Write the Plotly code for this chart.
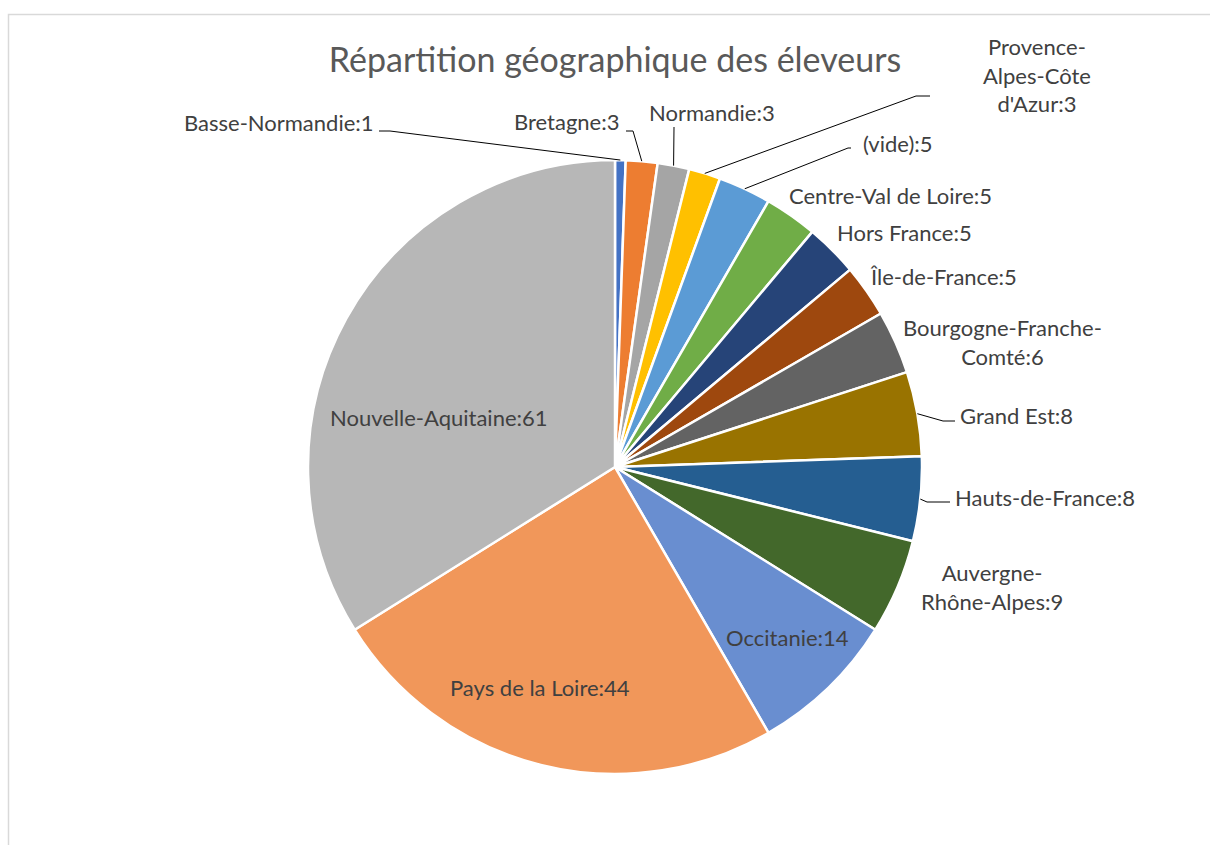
import math
import plotly.graph_objects as go

W, H = 1210, 845

# --- data (clockwise from 12 o'clock) ---
regions = [
    "Basse-Normandie", "Bretagne", "Normandie", "Provence-Alpes-Côte d'Azur",
    "(vide)", "Centre-Val de Loire", "Hors France", "Île-de-France",
    "Bourgogne-Franche-Comté", "Grand Est", "Hauts-de-France",
    "Auvergne-Rhône-Alpes", "Occitanie", "Pays de la Loire", "Nouvelle-Aquitaine",
]
counts = [1, 3, 3, 3, 5, 5, 5, 5, 6, 8, 8, 9, 14, 44, 61]

# wrapped versions of the long names, as Excel shows them
wrapped = {
    "Provence-Alpes-Côte d'Azur": "Provence-<br>Alpes-Côte<br>d'Azur",
    "Bourgogne-Franche-Comté": "Bourgogne-Franche-<br>Comté",
    "Auvergne-Rhône-Alpes": "Auvergne-<br>Rhône-Alpes",
}

colors = [
    "#4472C4", "#ED7D31", "#A5A5A5", "#FFC000", "#5B9BD5", "#70AD47",
    "#264478", "#9E480E", "#636363", "#997300", "#255E91", "#43682B",
    "#698ED0", "#F1975A", "#B7B7B7",
]

# pie geometry in pixels
CX, CY, R = 615, 467, 307

# label placement (pixels): x, y, xanchor
label_pos = [
    (376, 123, "right"), (622, 122, "right"), (712, 112, "center"),
    (1037, 75, "center"), (861, 143, "left"), (890, 195, "center"),
    (905, 233, "center"), (943, 276, "center"), (1002, 342, "center"),
    (958, 415, "left"), (953, 497, "left"), (992, 587, "center"),
    (787, 637, "center"), (540, 687, "center"), (439, 417, "center"),
]
# leader lines: label-side points (pixels), the slice end is computed
leaders = {
    0: [(379, 131), (390, 131)],
    1: [(626, 131), (633, 131)],
    2: [(674, 127)],
    3: [(930, 96), (916, 96)],
    4: [(851, 148), (848, 148)],
    9: [(955, 421), (943, 421)],
    10: [(950, 502), (927, 502)],
}


def px(x):
    return x / W


def py(y):
    return 1 - y / H


total = sum(counts)
edge = []
cum = 0
for n in counts:
    theta = 2 * math.pi * (cum + n / 2) / total
    edge.append((CX + R * math.sin(theta), CY - R * math.cos(theta)))
    cum += n

fig = go.Figure()
fig.add_trace(
    go.Pie(
        labels=regions,
        values=counts,
        sort=False,
        direction="clockwise",
        rotation=0,
        textinfo="none",
        marker=dict(colors=colors, line=dict(color="white", width=2.5)),
        domain=dict(
            x=[px(CX - R), px(CX + R)],
            y=[py(CY + R), py(CY - R)],
        ),
        showlegend=False,
        hoverinfo="label+value",
    )
)

annotations = []
for i, (name, n) in enumerate(zip(regions, counts)):
    x, y, anchor = label_pos[i]
    annotations.append(
        dict(
            x=px(x), y=py(y), xref="paper", yref="paper",
            text=f"{wrapped.get(name, name)}:{n}",
            showarrow=False, xanchor=anchor, yanchor="middle",
            align="center",
            font=dict(family="Lato", size=22, color="#404040"),
        )
    )

shapes = [
    dict(
        type="rect", xref="paper", yref="paper",
        x0=px(8.5), y0=py(14.5), x1=1.02, y1=-0.02,
        line=dict(color="#d9d9d9", width=1.5), layer="below",
    )
]
for i, pts in leaders.items():
    pts = pts + [edge[i]]
    path = "M " + " L ".join(f"{px(a)},{py(b)}" for a, b in pts)
    shapes.append(
        dict(type="path", xref="paper", yref="paper", path=path,
             line=dict(color="black", width=1))
    )

fig.update_layout(
    width=W,
    height=H,
    margin=dict(l=0, r=0, t=0, b=0),
    paper_bgcolor="white",
    plot_bgcolor="white",
    title=dict(
        text="Répartition géographique des éleveurs",
        x=px(615), y=py(60), xref="container", yref="container",
        xanchor="center", yanchor="middle",
        font=dict(family="Lato", size=34, color="#595959"),
    ),
    annotations=annotations,
    shapes=shapes,
)

fig.write_html(
    "out.html",
    config={"displayModeBar": False},
    post_script="document.body.style.margin='0';document.body.style.overflow='hidden';",
)
